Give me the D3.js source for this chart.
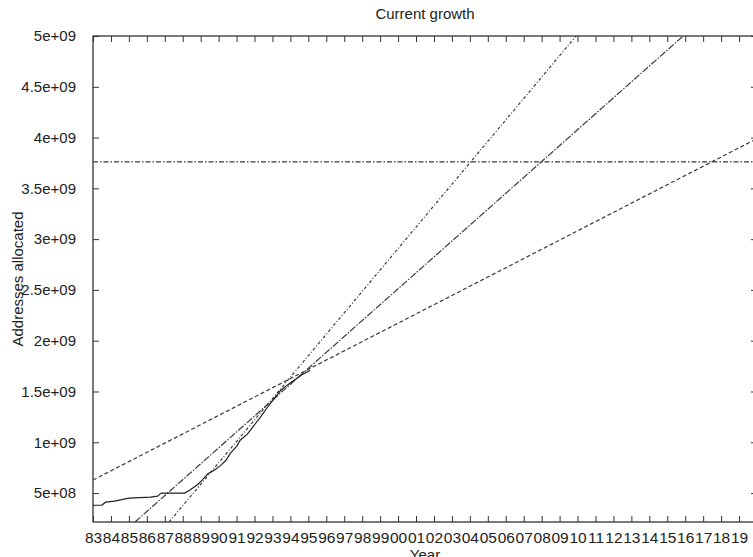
<!DOCTYPE html>
<html>
<head>
<meta charset="utf-8">
<script src="https://cdn.jsdelivr.net/npm/d3@7"></script>
<style>
  body { margin: 0; background: #fff; }
  svg { display: block; font-family: "Liberation Sans", Arial, sans-serif; }
  .axis text { font-size: 15px; fill: #222; }
  .axis line { stroke: #333; }
</style>
</head>
<body>
<svg id="chart" width="753" height="557"></svg>
<script>
// observed allocations (year, addresses)
const dataYears = [1983.0, 1983.5, 1983.7, 1984.2, 1984.6, 1985.0, 1986.2, 1986.6, 1986.8, 1988.1,
  1988.4, 1988.8, 1989.1, 1989.4, 1989.8, 1990.1, 1990.4, 1990.65, 1991.0, 1991.2, 1991.6,
  1991.9, 1992.3, 1992.7, 1993.1, 1993.45, 1993.8, 1994.2, 1994.6, 1995.1];
const dataValues = [3.8e8, 3.82e8, 4.1e8, 4.2e8, 4.35e8, 4.5e8, 4.6e8, 4.7e8, 5.0e8, 5.0e8,
  5.3e8, 5.8e8, 6.3e8, 6.9e8, 7.3e8, 7.7e8, 8.2e8, 8.9e8, 9.6e8, 1.02e9, 1.08e9,
  1.15e9, 1.24e9, 1.34e9, 1.43e9, 1.51e9, 1.56e9, 1.61e9, 1.66e9, 1.71e9];

// projections, two points each (year, addresses)
const steepYears = [1987.24, 2009.92];
const steepValues = [2.15e8, 5e9];
const middleYears = [1985.34, 2015.89];
const middleValues = [2.15e8, 5e9];
const shallowYears = [1983, 2020];
const shallowValues = [6.28e8, 3.99e9];
const limitYears = [1983, 2020];
const limitValues = [3.76e9, 3.76e9];

const xDomain = [1983, 2020];
const yDomain = [2.15e8, 5e9];
const yearTicks = d3.range(1983, 2020);
const valueTicks = d3.range(5e8, 5e9 + 1, 5e8);

const margin = { top: 36, right: -4, bottom: 35, left: 93 };
const svg = d3.select('#chart');
const width = +svg.attr('width');
const height = +svg.attr('height');
const x0 = margin.left, x1 = width - margin.right;
const y0 = height - margin.bottom, y1 = margin.top;

const scaleX = d3.scaleLinear().domain(xDomain).range([x0, x1]);
const scaleY = d3.scaleLinear().domain(yDomain).range([y0, y1]);

const fmtSci = d => {
  const e = Math.floor(Math.log10(d));
  const m = +(d / Math.pow(10, e)).toFixed(2);
  return m + 'e+' + String(e).padStart(2, '0');
};

svg.append('defs').append('clipPath').attr('id', 'clip')
  .append('rect').attr('x', x0).attr('y', y1).attr('width', x1 - x0).attr('height', y0 - y1);

// axes with inward ticks
svg.append('g').attr('class', 'axis')
  .attr('transform', 'translate(0,' + y0 + ')')
  .call(d3.axisBottom(scaleX).tickValues(yearTicks).tickSizeInner(-6).tickSizeOuter(0).tickPadding(10)
    .tickFormat(d => String(d % 100).padStart(2, '0')))
  .call(g => g.select('.domain').remove())
  .call(g => g.selectAll('text').style('font-size', '15.5px'));

svg.append('g').attr('class', 'axis')
  .attr('transform', 'translate(0,' + y1 + ')')
  .call(d3.axisTop(scaleX).tickValues(yearTicks).tickSizeInner(-6).tickSizeOuter(0).tickFormat(''))
  .call(g => g.select('.domain').remove());

svg.append('g').attr('class', 'axis')
  .attr('transform', 'translate(' + x0 + ',0)')
  .call(d3.axisLeft(scaleY).tickValues(valueTicks).tickSizeInner(-6).tickSizeOuter(0).tickPadding(17)
    .tickFormat(fmtSci))
  .call(g => g.select('.domain').remove());

svg.append('g').attr('class', 'axis')
  .attr('transform', 'translate(' + x1 + ',0)')
  .call(d3.axisRight(scaleY).tickValues(valueTicks).tickSizeInner(-6).tickSizeOuter(0).tickFormat(''))
  .call(g => g.select('.domain').remove());

svg.append('rect')
  .attr('x', x0).attr('y', y1).attr('width', x1 - x0).attr('height', y0 - y1)
  .attr('fill', 'none').attr('stroke', '#333').attr('stroke-width', 1.3);

const line = d3.line().x(d => scaleX(d[0])).y(d => scaleY(d[1]));
const plot = svg.append('g').attr('clip-path', 'url(#clip)');

const series = [
  { xs: limitYears, ys: limitValues, dash: '5,2,1.5,2' },
  { xs: shallowYears, ys: shallowValues, dash: '4,2.5' },
  { xs: middleYears, ys: middleValues, dash: '7,1.5,1.5,1.5' },
  { xs: steepYears, ys: steepValues, dash: '3,2,1,2' },
  { xs: dataYears, ys: dataValues, dash: null }
];

series.forEach(s => {
  plot.append('path')
    .datum(d3.zip(s.xs, s.ys))
    .attr('fill', 'none')
    .attr('stroke', s.dash ? '#3a3a3a' : '#222')
    .attr('stroke-width', 1.2)
    .attr('stroke-dasharray', s.dash)
    .attr('d', line);
});

// titles
svg.append('text')
  .attr('x', (x0 + x1) / 2).attr('y', 19)
  .attr('text-anchor', 'middle').style('font-size', '15px').attr('fill', '#222')
  .text('Current growth');

svg.append('text')
  .attr('x', (x0 + x1) / 2).attr('y', 560)
  .attr('text-anchor', 'middle').style('font-size', '15px').attr('fill', '#222')
  .text('Year');

svg.append('text')
  .attr('transform', 'translate(23,' + ((y0 + y1) / 2) + ') rotate(-90)')
  .attr('text-anchor', 'middle').style('font-size', '15px').attr('fill', '#222')
  .text('Addresses allocated');
</script>
</body>
</html>
